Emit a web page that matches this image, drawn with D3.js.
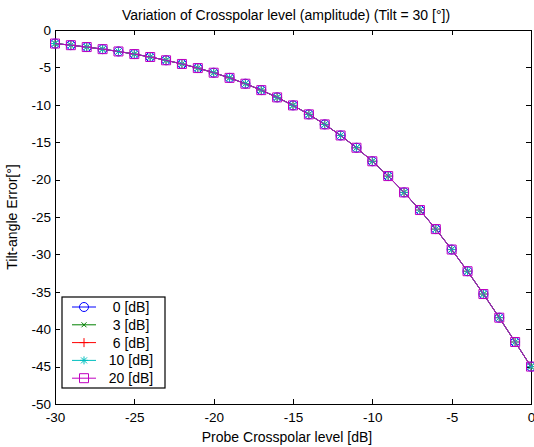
<!DOCTYPE html>
<html>
<head>
<meta charset="utf-8">
<script src="https://cdn.jsdelivr.net/npm/d3@7"></script>
<style>
  body { margin: 0; background: #fff; }
  text { font-family: "Liberation Sans", Arial, sans-serif; font-size: 14px; fill: #000; }
  .axis path, .axis line { stroke: #000; stroke-width: 1px; shape-rendering: crispEdges; }
</style>
</head>
<body>
<div id="graph"></div>
<script>
// data
var crosspolar = [-30, -29, -28, -27, -26, -25, -24, -23, -22, -21, -20, -19, -18, -17, -16,
                  -15, -14, -13, -12, -11, -10, -9, -8, -7, -6, -5, -4, -3, -2, -1, 0];
var tiltError = [-1.81, -2.03, -2.28, -2.56, -2.87, -3.22, -3.61, -4.05, -4.54, -5.09, -5.71,
                 -6.40, -7.18, -8.04, -9.01, -10.08, -11.28, -12.62, -14.10, -15.74, -17.55,
                 -19.53, -21.71, -24.07, -26.62, -29.35, -32.25, -35.30, -38.46, -41.71, -45.0];
var seriesNames = ["0 [dB]", "3 [dB]", "6 [dB]", "10 [dB]", "20 [dB]"];
var seriesValues = [tiltError, tiltError, tiltError, tiltError, tiltError];
var xTicks = [-30, -25, -20, -15, -10, -5, 0];
var yTicks = [0, -5, -10, -15, -20, -25, -30, -35, -40, -45, -50];

// styles
var colors = ["#0000ff", "#008000", "#ff0000", "#00bfbf", "#bf00bf"];
var markers = ["circle", "x", "plus", "star", "square"];

var margin = {top: 30, right: 3, bottom: 43, left: 55},
    width = 534 - margin.left - margin.right,
    height = 447 - margin.top - margin.bottom;

var x = d3.scaleLinear().domain([-30, 0]).range([0, width]);
var y = d3.scaleLinear().domain([-50, 0]).range([height, 0]);

// plain hyphen minus like the original
var fmt = function(d) { return String(d); };

var svg = d3.select("#graph")
    .append("svg")
        .attr("width", 534)
        .attr("height", 447)
    .append("g")
        .attr("transform", "translate(" + margin.left + "," + margin.top + ")");

// axes with inward ticks, box like matlab
svg.append("g")
    .attr("class", "axis")
    .attr("transform", "translate(0," + height + ")")
    .call(d3.axisBottom(x).tickValues(xTicks).tickSize(-5).tickSizeOuter(0).tickPadding(8).tickFormat(fmt));
svg.append("g")
    .attr("class", "axis")
    .call(d3.axisTop(x).tickValues(xTicks).tickSize(-5).tickSizeOuter(0).tickFormat(""));
svg.append("g")
    .attr("class", "axis")
    .call(d3.axisLeft(y).tickValues(yTicks).tickSize(-5).tickSizeOuter(0).tickPadding(4).tickFormat(fmt));
svg.append("g")
    .attr("class", "axis")
    .attr("transform", "translate(" + width + ",0)")
    .call(d3.axisRight(y).tickValues(yTicks).tickSize(-5).tickSizeOuter(0).tickFormat(""));

svg.selectAll(".axis text").style("font-size", "13.5px").style("font-family", "Liberation Sans, Arial, sans-serif");

// titles
svg.append("text")
    .attr("text-anchor", "middle")
    .attr("x", width / 2 - 7)
    .attr("y", -10)
    .text("Variation of Crosspolar level (amplitude) (Tilt = 30 [°])");

svg.append("text")
    .attr("text-anchor", "middle")
    .attr("x", width / 2 - 6)
    .attr("y", height + 38)
    .text("Probe Crosspolar level [dB]");

svg.append("text")
    .attr("text-anchor", "middle")
    .attr("transform", "translate(" + (-38) + "," + (height / 2) + ") rotate(-90)")
    .text("Tilt-angle Error[°]");

function markerPath(type) {
    switch (type) {
        case "circle": return "M4.5,0A4.5,4.5 0 1,1 -4.5,0A4.5,4.5 0 1,1 4.5,0Z";
        case "x": return "M-2.5,-2.5L2.5,2.5M-2.5,2.5L2.5,-2.5";
        case "plus": return "M-4.5,0L4.5,0M0,-4.5L0,4.5";
        case "star": return "M-4,0L4,0M0,-4L0,4M-3,-3L3,3M-3,3L3,-3";
        default: return "M-4.5,-4.5L4.5,-4.5L4.5,4.5L-4.5,4.5Z";
    }
}

var line = d3.line()
    .x(function(d, i) { return x(crosspolar[i]); })
    .y(function(d) { return y(d); });

seriesValues.forEach(function(vals, k) {
    svg.append("path")
        .datum(vals)
        .attr("d", line)
        .attr("fill", "none")
        .attr("stroke", colors[k])
        .attr("stroke-width", 1);
    svg.selectAll(".m" + k)
        .data(vals)
        .enter()
        .append("path")
        .attr("class", "m" + k)
        .attr("transform", function(d, i) { return "translate(" + x(crosspolar[i]) + "," + y(d) + ")"; })
        .attr("d", markerPath(markers[k]))
        .attr("fill", "none")
        .attr("stroke", colors[k])
        .attr("stroke-width", 1);
});

// legend
var lg = svg.append("g").attr("transform", "translate(7," + (height - 107) + ")");
lg.append("rect")
    .attr("width", 103)
    .attr("height", 91)
    .attr("fill", "#fff")
    .attr("stroke", "#000")
    .attr("stroke-width", 1.2);

seriesNames.forEach(function(name, k) {
    var yy = 10 + k * 17.8;
    lg.append("line")
        .attr("x1", 10).attr("x2", 34)
        .attr("y1", yy).attr("y2", yy)
        .attr("stroke", colors[k])
        .attr("stroke-width", 1);
    lg.append("path")
        .attr("transform", "translate(22," + yy + ")")
        .attr("d", markerPath(markers[k]))
        .attr("fill", "none")
        .attr("stroke", colors[k]);
    lg.append("text")
        .attr("text-anchor", "middle")
        .attr("x", 69)
        .attr("y", yy + 5)
        .style("font-size", "14px")
        .text(name);
});
</script>
</body>
</html>
